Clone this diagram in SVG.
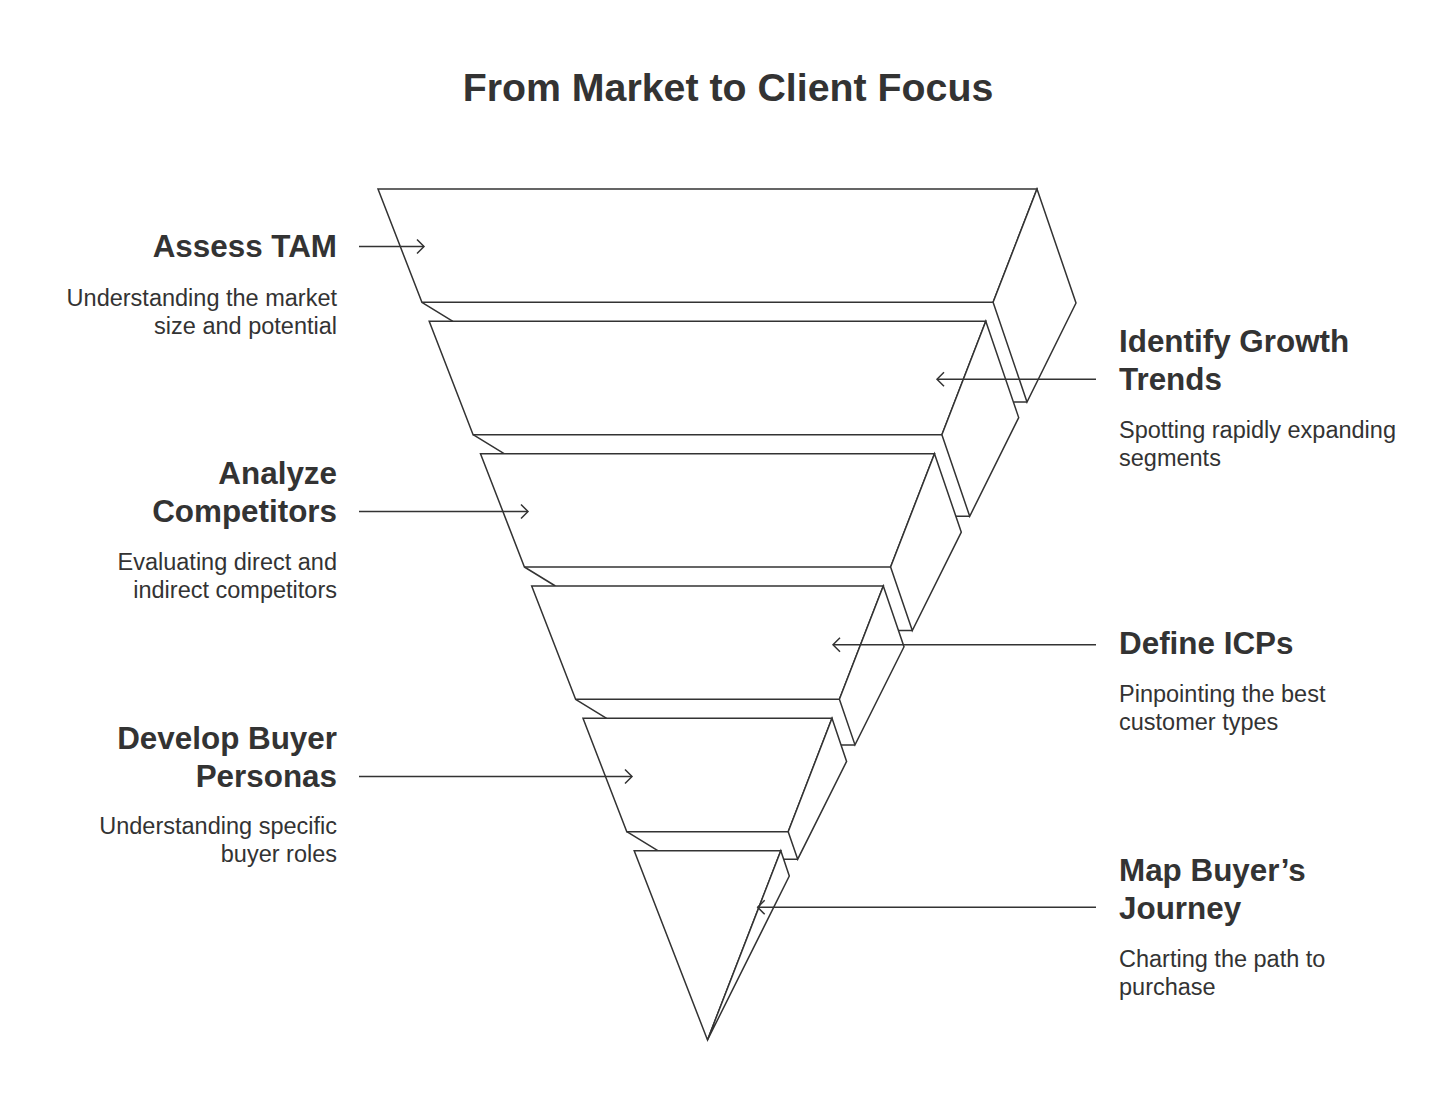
<svg xmlns="http://www.w3.org/2000/svg" width="1456" height="1116" viewBox="0 0 1456 1116">
<defs>
<style>
.face{fill:#fff;stroke:#333;stroke-width:1.5;stroke-linejoin:miter}
.edge{fill:none;stroke:#333;stroke-width:1.5}
.conn{fill:none;stroke:#333;stroke-width:1.5}
.title{font-family:"Liberation Sans",Arial,sans-serif;font-size:39.3px;font-weight:bold;fill:#333}
.lbl{font-family:"Liberation Sans",Arial,sans-serif;font-size:31.4px;font-weight:bold;fill:#333}
.desc{font-family:"Liberation Sans",Arial,sans-serif;font-size:23.5px;fill:#333}
</style>
<marker id="arr" viewBox="-10 -10 20 20" markerWidth="20" markerHeight="20" markerUnits="userSpaceOnUse" orient="auto" refX="0" refY="0">
<path d="M-7,-7 L0,0 L-7,7" fill="none" stroke="#333" stroke-width="1.5"/>
</marker>
</defs>
<rect width="1456" height="1116" fill="#fff"/>
<text class="title" x="728" y="100.5" text-anchor="middle">From Market to Client Focus</text>

<g id="seg1">
<polygon class="face" points="378,189 1037,189 993.1,302.3 421.9,302.3"/>
<polygon class="face" points="1037,189 1076,303 1027,402 993.1,302.3"/>
<path class="edge" d="M1027,402 L1013.4,402 M421.9,302.3 L452.9,321.3"/>
</g>
<g id="seg2">
<polygon class="face" points="429.2,321.3 985.8,321.3 941.9,434.7 473.1,434.7"/>
<polygon class="face" points="985.8,321.3 1018.7,417.6 969.7,516.3 941.9,434.7"/>
<path class="edge" d="M969.7,516.3 L955.9,516.3 M473.1,434.7 L504.1,453.7"/>
</g>
<g id="seg3">
<polygon class="face" points="480.5,453.7 934.5,453.7 890.6,567 524.4,567"/>
<polygon class="face" points="934.5,453.7 961.3,532.2 912.3,630.6 890.6,567"/>
<path class="edge" d="M912.3,630.6 L898.5,630.6 M524.4,567 L555.4,586"/>
</g>
<g id="seg4">
<polygon class="face" points="531.7,586 883.3,586 839.4,699.3 575.6,699.3"/>
<polygon class="face" points="883.3,586 904,646.8 855,744.9 839.4,699.3"/>
<path class="edge" d="M855,744.9 L841,744.9 M575.6,699.3 L606.6,718.3"/>
</g>
<g id="seg5">
<polygon class="face" points="583,718.3 832,718.3 788.2,831.7 626.8,831.7"/>
<polygon class="face" points="832,718.3 846.6,761.4 797.7,859.2 788.2,831.7"/>
<path class="edge" d="M797.7,859.2 L783.7,859.2 M626.8,831.7 L657.8,850.7"/>
</g>
<g id="seg6">
<polygon class="face" points="634.2,850.7 780.8,850.7 707.5,1040"/>
<polygon class="face" points="780.8,850.7 789.3,876 707.5,1040"/>
</g>

<g id="label-assess-tam">
<text class="lbl" x="337" y="257" text-anchor="end">Assess TAM</text>
<text class="desc" x="337" y="306" text-anchor="end">Understanding the market</text>
<text class="desc" x="337" y="334" text-anchor="end">size and potential</text>
</g>
<g id="label-growth">
<text class="lbl" x="1119" y="352">Identify Growth</text>
<text class="lbl" x="1119" y="390">Trends</text>
<text class="desc" x="1119" y="438">Spotting rapidly expanding</text>
<text class="desc" x="1119" y="466">segments</text>
</g>
<g id="label-competitors">
<text class="lbl" x="337" y="484" text-anchor="end">Analyze</text>
<text class="lbl" x="337" y="522" text-anchor="end">Competitors</text>
<text class="desc" x="337" y="570" text-anchor="end">Evaluating direct and</text>
<text class="desc" x="337" y="598" text-anchor="end">indirect competitors</text>
</g>
<g id="label-icps">
<text class="lbl" x="1119" y="654">Define ICPs</text>
<text class="desc" x="1119" y="702">Pinpointing the best</text>
<text class="desc" x="1119" y="730">customer types</text>
</g>
<g id="label-personas">
<text class="lbl" x="337" y="749" text-anchor="end">Develop Buyer</text>
<text class="lbl" x="337" y="787" text-anchor="end">Personas</text>
<text class="desc" x="337" y="834" text-anchor="end">Understanding specific</text>
<text class="desc" x="337" y="862" text-anchor="end">buyer roles</text>
</g>
<g id="label-journey">
<text class="lbl" x="1119" y="881">Map Buyer’s</text>
<text class="lbl" x="1119" y="919">Journey</text>
<text class="desc" x="1119" y="967">Charting the path to</text>
<text class="desc" x="1119" y="995">purchase</text>
</g>

<g id="connectors">
<line class="conn" x1="359" y1="246.5" x2="424" y2="246.5" marker-end="url(#arr)"/>
<line class="conn" x1="1096" y1="379.3" x2="937" y2="379.3" marker-end="url(#arr)"/>
<line class="conn" x1="359" y1="511.5" x2="528" y2="511.5" marker-end="url(#arr)"/>
<line class="conn" x1="1096" y1="644.7" x2="833" y2="644.7" marker-end="url(#arr)"/>
<line class="conn" x1="359" y1="776.5" x2="632" y2="776.5" marker-end="url(#arr)"/>
<line class="conn" x1="1096" y1="907.3" x2="757.7" y2="907.3" marker-end="url(#arr)"/>
</g>
</svg>
